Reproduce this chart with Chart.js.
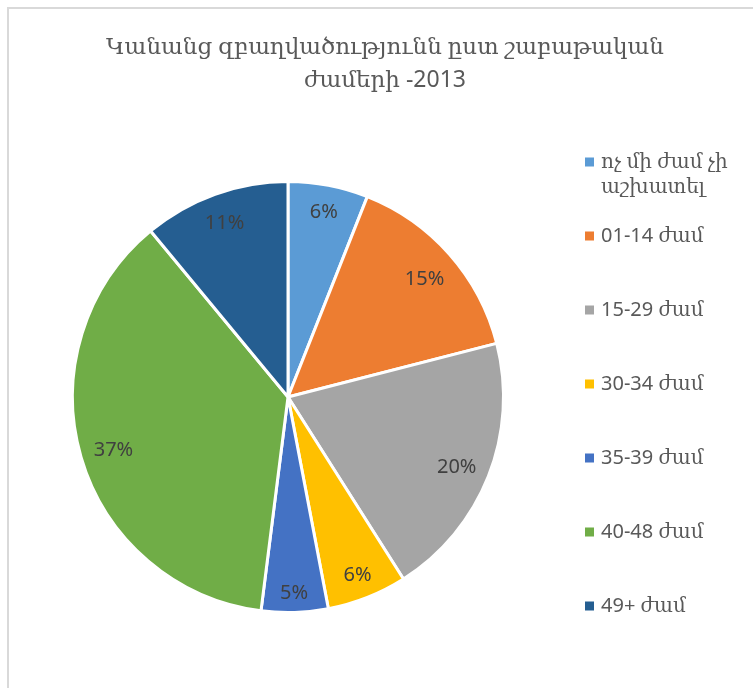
<!DOCTYPE html>
<html>
<head>
<meta charset="utf-8">
<script src="https://cdn.jsdelivr.net/npm/chart.js@4.4.1/dist/chart.umd.min.js"></script>
<style>
  html, body { margin: 0; padding: 0; background: #fff; }
  body { width: 753px; height: 688px; position: relative; overflow: hidden; }
  .frame { position: absolute; left: 7px; top: 7px; width: 800px; height: 800px; border: 2px solid #d9d9d9; box-sizing: border-box; }
  #wrap { position: absolute; left: 0; top: 0; width: 753px; height: 688px; }
</style>
</head>
<body>
<div class="frame"></div>
<div id="wrap"><canvas id="pieChart" width="753" height="688"></canvas></div>
<script>
const titleLines = ["Կանանց զբաղվածությունն ըստ շաբաթական", "ժամերի -2013"];
const categories = ["ոչ մի ժամ չի աշխատել", "01-14 ժամ", "15-29 ժամ", "30-34 ժամ", "35-39 ժամ", "40-48 ժամ", "49+ ժամ"];
const shares = [6, 15, 20, 6, 5, 37, 11];
const colors = ["#5b9bd5", "#ed7d31", "#a5a5a5", "#ffc000", "#4472c4", "#70ad47", "#255e91"];

const FONT = '"Noto Sans", "DejaVu Serif", sans-serif';

function wrapText(ctx, text, maxWidth) {
  const words = text.split(" ");
  const lines = [];
  let line = "";
  words.forEach((w) => {
    const test = line ? line + " " + w : w;
    if (line && ctx.measureText(test).width > maxWidth) {
      lines.push(line);
      line = w;
    } else {
      line = test;
    }
  });
  if (line) lines.push(line);
  return lines;
}

// legend drawn in its own layout box on the right (first label wraps like Excel)
const sideLegend = {
  id: "sideLegend",
  beforeInit(chart) {
    const box = {
      position: "right",
      weight: 1000,
      fullSize: false,
      options: {},
      left: 0, top: 0, right: 0, bottom: 0, width: 0, height: 0,
      isHorizontal() { return false; },
      update(maxWidth, maxHeight) {
        this.width = 194;
        this.height = maxHeight;
      },
      draw() {
        const ctx = chart.ctx;
        const area = chart.chartArea;
        const midY = (area.top + area.bottom) / 2;
        const textX = this.left + 42;
        ctx.save();
        ctx.font = "20px " + FONT;
        ctx.textBaseline = "middle";
        ctx.textAlign = "left";
        chart.data.labels.forEach((label, i) => {
          const y = midY - 235 + i * 74;
          ctx.fillStyle = colors[i];
          ctx.fillRect(this.left + 26, y - 4.5, 9, 9);
          ctx.fillStyle = "#595959";
          wrapText(ctx, label, 753 - textX - 2).forEach((line, j) => {
            ctx.fillText(line, textX, y + j * 25);
          });
        });
        ctx.restore();
      }
    };
    Chart.layouts.addBox(chart, box);
  }
};

// percent labels placed "inside end": text box kept a small margin inside the rim
const sliceLabels = {
  id: "sliceLabels",
  afterDatasetsDraw(chart) {
    const ctx = chart.ctx;
    const meta = chart.getDatasetMeta(0);
    ctx.save();
    ctx.font = "20px " + FONT;
    ctx.fillStyle = "#404040";
    ctx.textAlign = "center";
    ctx.textBaseline = "middle";
    meta.data.forEach((arc, i) => {
      const text = shares[i] + "%";
      const mid = (arc.startAngle + arc.endAngle) / 2;
      const cx = Math.cos(mid);
      const cy = Math.sin(mid);
      const halfW = ctx.measureText(text).width / 2;
      const reach = Math.abs(cx) * halfW + Math.abs(cy) * 10;
      const r = arc.outerRadius - 12 - reach;
      ctx.fillText(text, arc.x + cx * r, arc.y + cy * r + 3);
    });
    ctx.restore();
  }
};

const pieBox = document.getElementById("pieChart").getContext("2d");

const pieChart = new Chart(pieBox, {
  type: "pie",
  data: {
    labels: categories,
    datasets: [
      {
        data: shares,
        backgroundColor: colors,
        borderColor: "#ffffff",
        borderWidth: 3,
      },
    ],
  },
  options: {
    responsive: false,
    animation: false,
    layout: {
      padding: { top: 0, left: 17, right: 0, bottom: 74 },
    },
    plugins: {
      legend: { display: false },
      tooltip: { enabled: false },
      title: {
        display: true,
        text: titleLines,
        color: "#595959",
        font: { family: FONT, size: 23, weight: "normal", lineHeight: 33 / 23 },
        padding: { top: 31, bottom: 83 },
      },
    },
  },
  plugins: [sideLegend, sliceLabels],
});
</script>
</body>
</html>
